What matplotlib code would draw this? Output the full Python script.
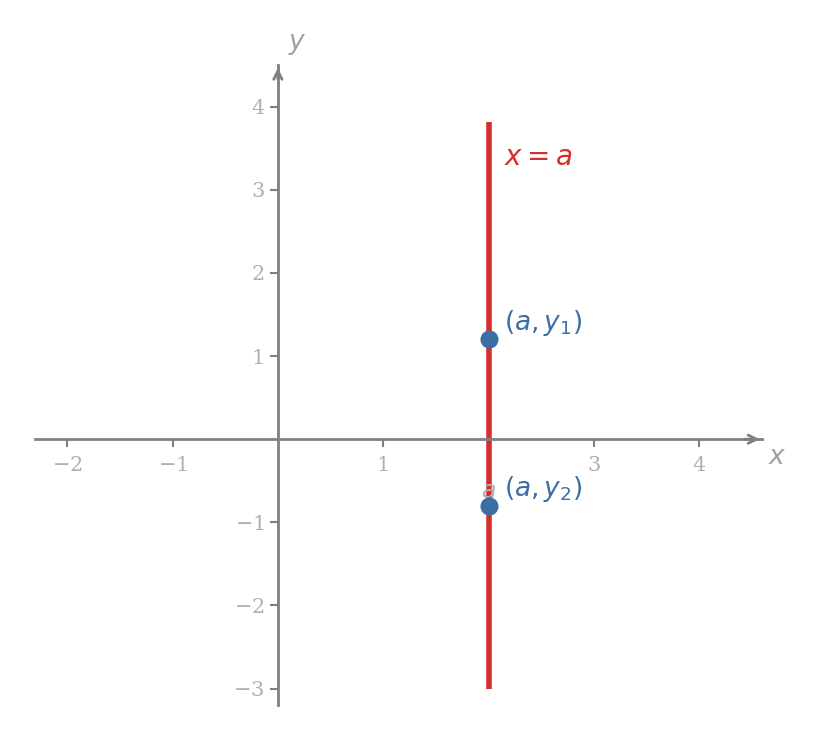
import matplotlib
matplotlib.use('Agg')
import matplotlib.pyplot as plt

a = 2
line_y = [-3, 3.82]
point_y = [1.2, -0.8]
point_labels = [r'$(a, y_1)$', r'$(a, y_2)$']
xticks = [-2, -1, 1, 3, 4]
yticks = [-3, -2, -1, 1, 2, 3, 4]

fig = plt.figure(figsize=(8.25, 7.4), dpi=100)
ax = fig.add_axes([0.042, 0.047, 0.882, 0.865])
ax.set_xlim(-2.31, 4.6)
ax.set_ylim(-3.2, 4.5)

gray = '#808080'
for s in ['top', 'right']:
    ax.spines[s].set_visible(False)
for s in ['left', 'bottom']:
    ax.spines[s].set_position(('data', 0))
    ax.spines[s].set_color(gray)
    ax.spines[s].set_linewidth(2)
ax.plot(1, 0, '>', color=gray, transform=ax.get_yaxis_transform(), clip_on=False, ms=0)
ax.annotate('', xy=(4.6, 0), xytext=(4.4, 0),
            arrowprops=dict(arrowstyle='->', color=gray, lw=2, mutation_scale=15))
ax.annotate('', xy=(0, 4.5), xytext=(0, 4.3),
            arrowprops=dict(arrowstyle='->', color=gray, lw=2, mutation_scale=15))

ax.set_xticks(xticks)
ax.set_yticks(yticks)
ax.set_xticklabels([f'$-${-t}' if t < 0 else str(t) for t in xticks],
                   family='DejaVu Serif', fontsize=15, color='#b0b0b0')
ax.set_yticklabels([f'$-${-t}' if t < 0 else str(t) for t in yticks],
                   family='DejaVu Serif', fontsize=15, color='#b0b0b0')
ax.tick_params(colors=gray, width=1.5, length=6, labelcolor='#b0b0b0')
ax.tick_params(axis='x', pad=6)

ax.plot([a, a], line_y, color='#d62d2d', lw=4, solid_capstyle='butt')
ax.plot([a] * len(point_y), point_y, 'o', color='#3a6ea5', ms=12, zorder=5)
for y, lab in zip(point_y, point_labels):
    ax.text(a + 0.15, y + 0.2, lab, color='#3a6ea5', fontsize=19, va='center')
ax.text(a + 0.15, 3.4, r'$x = a$', color='#d62d2d', fontsize=20, va='center')
ax.text(a, -0.62, r'$a$', color='#b0b0b0', fontsize=17, ha='center', va='center')
ax.text(4.65, -0.22, r'$x$', color='#a0a0a0', fontsize=19, va='center')
ax.text(0.1, 4.75, r'$y$', color='#a0a0a0', fontsize=19, va='center')

fig.savefig('out.png', dpi=100)
